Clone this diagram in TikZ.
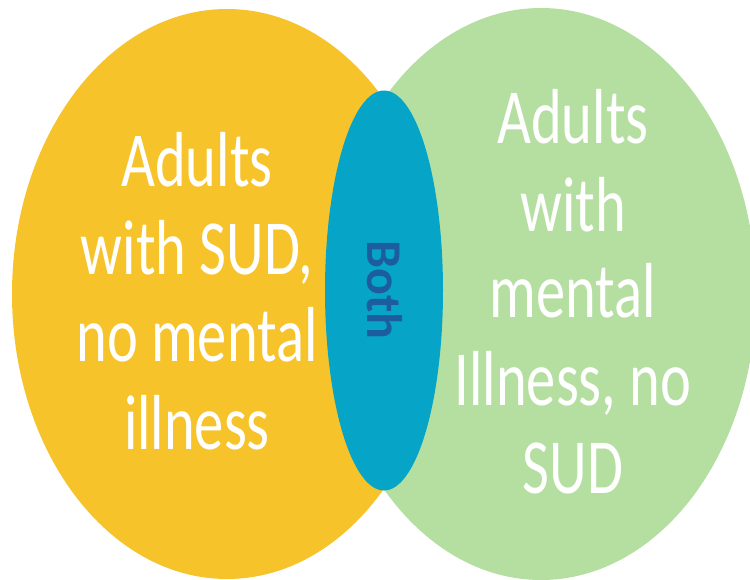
\documentclass[tikz,border=0pt]{standalone}
\usepackage{fontspec}
\newfontfamily\vennfont[FakeStretch=0.75]{Carlito}
\newfontfamily\bothfont{Carlito}
\definecolor{CY}{RGB}{247,195,42}
\definecolor{CG}{RGB}{181,223,161}
\definecolor{CB}{RGB}{6,164,199}
\definecolor{CT}{RGB}{28,92,160}

\begin{document}
\begin{tikzpicture}[x=1pt,y=1pt,
        setlabel/.style={anchor=base,inner sep=0pt,text=white,
            font=\vennfont\fontsize{78}{88}\selectfont},
        bothlabel/.style={inner sep=0pt,text=CT,rotate=-90,
            font=\bothfont\bfseries\fontsize{50}{60}\selectfont}]
                \useasboundingbox (0,0) rectangle (750,579);
                \clip (0,0) rectangle (750,579);
                \fill[CY] (227,285) ellipse [x radius=215,y radius=285];
                \fill[CG] (541,285) ellipse [x radius=215,y radius=286];
                \fill[CB] (384,288.5) ellipse [x radius=59,y radius=200];

                % substance use only
                \node[setlabel] (sudA) at (197,392) {Adults};
                \node[setlabel] (sudB) at (197,304) {with SUD,};
                \node[setlabel] (sudC) at (197,217) {no mental};
                \node[setlabel] (sudD) at (197,129) {illness};

                % mental illness only
                \node[setlabel] (amiA) at (573,435) {Adults};
                \node[setlabel] (amiB) at (573,347) {with};
                \node[setlabel] (amiC) at (573,261) {mental};
                \node[setlabel] (amiD) at (573,173) {Illness, no};
                \node[setlabel] (amiE) at (573,86) {SUD};

                \node[bothlabel] (both) at (385,289) {Both};
            \end{tikzpicture}
\end{document}
